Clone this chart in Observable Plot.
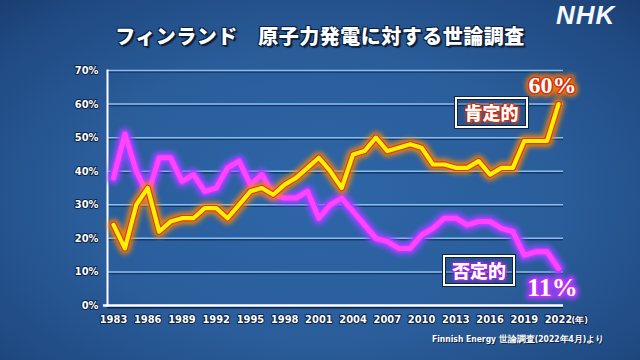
<!DOCTYPE html>
<html><head><meta charset="utf-8">
<script src="https://cdn.jsdelivr.net/npm/d3@7"></script>
<script src="https://cdn.jsdelivr.net/npm/@observablehq/plot@0.6"></script>
<style>
html,body{margin:0;padding:0;width:640px;height:360px;overflow:hidden;}
body{position:relative;background:radial-gradient(ellipse 75% 80% at 50% 55%, #2e66a8 0%, #2a5d9a 50%, #1f4880 85%, #183a6a 100%);}
#chart{position:absolute;left:0;top:0;}
#title{position:absolute;left:0;top:21px;width:640px;text-align:center;font-family:"Noto Sans CJK JP";font-weight:900;font-size:20px;color:#fff;letter-spacing:0.5px;
 text-shadow:1px 1px 0 #0c1f3d,-1px -1px 0 #0c1f3d,1px -1px 0 #0c1f3d,-1px 1px 0 #0c1f3d,2px 2px 1px #0c1f3d;}
#logo{position:absolute;left:556px;top:0px;font-family:"Liberation Sans";font-weight:bold;font-style:italic;font-size:26px;color:#f4f8fc;letter-spacing:1px;}
#caption{position:absolute;left:432px;top:334px;font-family:"DejaVu Sans Condensed";font-weight:bold;font-size:8.5px;color:#fff;
 text-shadow:1px 1px 0 #0c1f3d;}
.tag{position:absolute;height:27px;line-height:27px;text-align:center;font-family:"Noto Sans CJK JP";font-weight:900;font-size:18px;color:#fff;
 border:2px solid #fff;box-shadow:0 0 0 1px #0d2244, inset 0 0 0 1px #0d2244;background:rgba(25,50,95,0.25);}
#tagYes{left:455px;top:97px;width:69px;text-shadow:1px 1px 0 #d62a10,-1px -1px 0 #d62a10,1px -1px 0 #d62a10,-1px 1px 0 #d62a10,0 0 4px #ff7a00;}
#tagNo{left:443px;top:255px;width:68px;text-shadow:1px 1px 0 #a020e0,-1px -1px 0 #a020e0,1px -1px 0 #a020e0,-1px 1px 0 #a020e0,0 0 4px #c040ff;}
</style></head><body>
<div id="chart"></div>
<div id="title">フィンランド　原子力発電に対する世論調査</div>
<div id="logo">NHK</div>
<div class="tag" id="tagYes">肯定的</div>
<div class="tag" id="tagNo">否定的</div>
<div id="caption">Finnish Energy 世論調査(2022年4月)より</div>
<script>
const years = [1983,1984,1985,1986,1987,1988,1989,1990,1991,1992,1993,1994,1995,1996,1997,1998,1999,2000,2001,2002,2003,2004,2005,2006,2007,2008,2009,2010,2011,2012,2013,2014,2015,2016,2017,2018,2019,2020,2021,2022];
const yesValues = [24,17,30,35,22,25,26,26,29,29,26,30,34,35,33,36,38,41,44,40,35,45,46,50,46,47,48,47,42,42,41,41,43,39,41,41,49,49,49,60];
const noValues  = [38,51,40,33,44,44,37,39,34,35,41,43,36,39,33,32,32,34,26,30,32,28,24,20,19,17,17,21,23,26,26,24,25,25,23,22,15,16,16,11];
const yTicks = [0,10,20,30,40,50,60,70];
const gridTicks = [10,20,30,40,50,60,70];
const xTicks = [1983,1986,1989,1992,1995,1998,2001,2004,2007,2010,2013,2016,2019,2022];
const yearUnit = "(年)";

const yes = years.map((year, i) => ({year, v: yesValues[i]}));
const no = years.map((year, i) => ({year, v: noValues[i]}));
const lastYes = [yes[yes.length - 1]];
const lastNo = [no[no.length - 1]];

const glowYes = "#ff8a00", glowNo = "#8a4dff", glowYesText = "#ff7a00", glowNoText = "#a040ff";
const labelFont = "DejaVu Sans Condensed";
const chart = Plot.plot({
  width: 640, height: 360,
  marginTop: 70, marginBottom: 55, marginLeft: 107, marginRight: 77,
  insetLeft: 6, insetRight: 5,
  style: {background: "transparent", overflow: "visible"},
  x: {domain: [1983, 2022], axis: null},
  y: {domain: [0, 70], axis: null},
  marks: [
    Plot.ruleY(gridTicks, {stroke: "#173665", strokeWidth: 1.5, dy: 1.5}),
    Plot.ruleY(gridTicks, {stroke: "#86c0f0", strokeWidth: 1.5}),
    Plot.ruleY([0], {stroke: "#0c2246", strokeWidth: 2, dy: 2}),
    Plot.ruleY([0], {stroke: "white", strokeWidth: 2.5, insetLeft: -4}),
    Plot.frame({anchor: "left", stroke: "white", strokeWidth: 2}),
    Plot.text(yTicks, {y: d => d, frameAnchor: "left", dx: -9, textAnchor: "end", text: d => d + "%",
      fill: "white", stroke: "#0c2246", strokeWidth: 2, paintOrder: "stroke", fontSize: 11, fontWeight: "bold", fontFamily: labelFont}),
    Plot.text(xTicks, {x: d => d, frameAnchor: "bottom", dy: 17, text: d => String(d),
      fill: "white", stroke: "#0c2246", strokeWidth: 2, paintOrder: "stroke", fontSize: 11, fontWeight: "bold", fontFamily: labelFont}),
    Plot.text([yearUnit], {frameAnchor: "bottom-right", dx: 8, dy: 17, textAnchor: "start", text: d => d,
      fill: "white", stroke: "#0c2246", strokeWidth: 2, paintOrder: "stroke", fontSize: 9, fontWeight: "bold", fontFamily: labelFont}),
    // No line (magenta)
    Plot.line(no, {x: "year", y: "v", stroke: glowNo, strokeWidth: 13, strokeOpacity: 0.9}),
    Plot.line(no, {x: "year", y: "v", stroke: "#b43cff", strokeWidth: 8}),
    Plot.line(no, {x: "year", y: "v", stroke: "#ff45ff", strokeWidth: 5}),
    // Yes line (yellow)
    Plot.line(yes, {x: "year", y: "v", stroke: glowYes, strokeWidth: 12, strokeOpacity: 0.85}),
    Plot.line(yes, {x: "year", y: "v", stroke: "#e0381a", strokeWidth: 6.5}),
    Plot.line(yes, {x: "year", y: "v", stroke: "#fff200", strokeWidth: 4.2}),
    // end value labels
    Plot.text(lastYes, {x: "year", y: "v", dx: -6, dy: -19, text: d => d.v + "%", fill: "none", stroke: glowYesText, strokeWidth: 7,
      fontSize: 24, fontWeight: "bold", fontFamily: "Liberation Serif"}),
    Plot.text(lastYes, {x: "year", y: "v", dx: -6, dy: -19, text: d => d.v + "%", fill: "white", stroke: "#d8300e", strokeWidth: 3, paintOrder: "stroke",
      fontSize: 24, fontWeight: "bold", fontFamily: "Liberation Serif"}),
    Plot.text(lastNo, {x: "year", y: "v", dx: -6, dy: 19, text: d => d.v + "%", fill: "none", stroke: glowNoText, strokeWidth: 7,
      fontSize: 26, fontWeight: "bold", fontFamily: "Liberation Serif"}),
    Plot.text(lastNo, {x: "year", y: "v", dx: -6, dy: 19, text: d => d.v + "%", fill: "white", stroke: "#c030f0", strokeWidth: 3, paintOrder: "stroke",
      fontSize: 26, fontWeight: "bold", fontFamily: "Liberation Serif"})
  ]
});
[glowYes, glowNo, glowYesText, glowNoText].forEach(c => {
  d3.select(chart).selectAll(`g[stroke="${c}"]`).style("filter", "blur(2.5px)");
});
document.getElementById("chart").appendChild(chart);
</script>
</body></html>
